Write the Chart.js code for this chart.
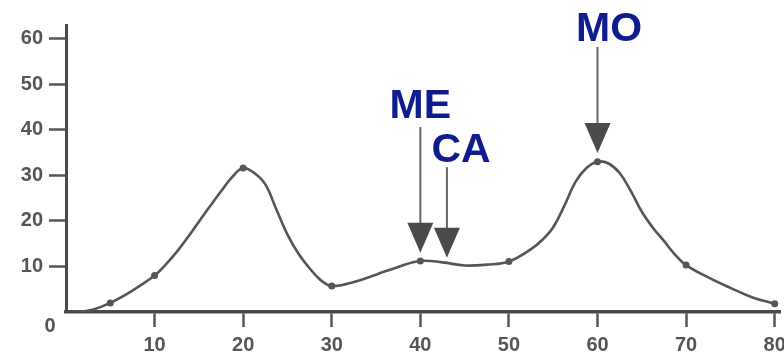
<!DOCTYPE html>
<html>
<head>
<meta charset="utf-8">
<script src="https://cdn.jsdelivr.net/npm/chart.js@4/dist/chart.umd.min.js"></script>
<style>
  html, body { margin: 0; padding: 0; background: #fff; }
  #wrap { width: 784px; height: 357px; position: relative; }
</style>
</head>
<body>
<div id="wrap"><canvas id="chart"></canvas></div>
<script>
// curve (x, y)
const curveX = [1.5, 3, 5, 7.5, 10, 11.25, 12.5, 13.75, 15, 16.25, 17.5, 18.75, 20, 21.25, 22.5, 23.75, 25, 26.25, 27.5, 28.75, 30,
    32.5, 35, 37.5, 40, 42.5, 45, 47.5, 50, 52.5, 53.75, 55, 56.25, 57.5, 58.75, 60, 61.25, 62.5, 63.75, 65, 66.25, 67.5, 68.75, 70,
    72.5, 75, 77.5, 80];
const curveY = [0, 0.5, 2, 4.7, 8, 10.4, 13.2, 16.4, 19.8, 23.2, 26.5, 29.6, 31.6, 30.5, 28, 22.5, 17, 12.8, 9.6, 7.0, 5.7,
    6.6, 8.2, 9.9, 11.2, 10.9, 10.2, 10.4, 11.1, 13.8, 15.8, 18.6, 23.3, 28.5, 31.6, 33, 32.6, 30.5, 26.6, 22, 18.5, 15.6, 12.6, 10.3,
    7.6, 5.3, 3.2, 1.8];

// dots drawn on the curve
const markX = [5, 10, 20, 30, 40, 50, 60, 70, 80];
const markY = [2, 8, 31.6, 5.7, 11.2, 11.1, 33, 10.3, 1.8];

const xTicks = [10, 20, 30, 40, 50, 60, 70, 80];
const yTicks = [10, 20, 30, 40, 50, 60];

// arrow labels
const arrowLabels = ["ME", "CA", "MO"];
const arrowAt = [40, 43, 60];

// annotation placement (data units)
const arrowGeom = [
    { tail: 40.6, tip: 13.0, lx: 40.0, ly: 45.0 },
    { tail: 31.8, tip: 11.9, lx: 44.6, ly: 35.5 },
    { tail: 58.2, tip: 34.9, lx: 61.3, ly: 62.0 },
];

const arrowPlugin = {
    id: "arrows",
    afterDatasetsDraw(chart) {
        const ctx = chart.ctx;
        const xs = chart.scales.x;
        const ys = chart.scales.y;
        ctx.save();
        arrowLabels.forEach((lab, i) => {
            const g = arrowGeom[i];
            const x = xs.getPixelForValue(arrowAt[i]);
            const yTail = ys.getPixelForValue(g.tail);
            const yTip = ys.getPixelForValue(g.tip);
            const headH = 30, headW = 13;
            // shaft
            ctx.strokeStyle = "#666";
            ctx.lineWidth = 2;
            ctx.beginPath();
            ctx.moveTo(x, yTail);
            ctx.lineTo(x, yTip - headH + 2);
            ctx.stroke();
            // head
            ctx.fillStyle = "#4a4a4a";
            ctx.beginPath();
            ctx.moveTo(x - headW, yTip - headH);
            ctx.lineTo(x + headW, yTip - headH);
            ctx.lineTo(x, yTip);
            ctx.closePath();
            ctx.fill();
            // label
            ctx.fillStyle = "#0f1c8e";
            ctx.font = "bold 41px 'Liberation Sans', Arial, sans-serif";
            ctx.textAlign = "center";
            ctx.textBaseline = "middle";
            ctx.fillText(lab, xs.getPixelForValue(g.lx), ys.getPixelForValue(g.ly));
        });
        // single "0" at the origin
        ctx.fillStyle = "#555";
        ctx.font = "bold 20px 'Liberation Sans', Arial, sans-serif";
        ctx.textAlign = "center";
        ctx.textBaseline = "middle";
        ctx.fillText("0", xs.getPixelForValue(0) - 16, ys.getPixelForValue(0) + 14);
        ctx.restore();
    },
};

const tickFont = { family: "'Liberation Sans', Arial, sans-serif", size: 20, weight: "bold" };

new Chart(document.getElementById("chart"), {
    type: "line",
    data: {
        datasets: [
            {
                data: curveX.map((x, i) => ({ x: x, y: curveY[i] })),
                borderColor: "#555",
                borderWidth: 2.6,
                pointRadius: 0,
                tension: 0.4,
                fill: false,
            },
            {
                data: markX.map((x, i) => ({ x: x, y: markY[i] })),
                showLine: false,
                pointRadius: 3.5,
                pointBackgroundColor: "#555",
                pointBorderWidth: 0,
            },
        ],
    },
    options: {
        responsive: true,
        maintainAspectRatio: false,
        animation: false,
        layout: { padding: { top: 25, right: 0, left: 0, bottom: 0 } },
        plugins: {
            legend: { display: false },
            tooltip: { enabled: false },
        },
        scales: {
            x: {
                type: "linear",
                min: 0,
                max: 80.6,
                afterBuildTicks: (axis) => { axis.ticks = xTicks.map(v => ({ value: v })); },
                afterFit: (axis) => { axis.height = 45; axis.paddingLeft = 0; axis.paddingRight = 0; },
                grid: { display: true, drawOnChartArea: false, drawTicks: true, tickLength: 15, tickColor: "#555", tickWidth: 2.5 },
                border: { display: true, color: "#4a4a4a", width: 3.5 },
                ticks: { color: "#555", font: tickFont, padding: 6, maxRotation: 0, autoSkip: false },
            },
            y: {
                type: "linear",
                min: 0,
                max: 63,
                afterBuildTicks: (axis) => { axis.ticks = yTicks.map(v => ({ value: v })); },
                afterFit: (axis) => { axis.width = 66; axis.paddingTop = 0; axis.paddingBottom = 0; },
                grid: { display: true, drawOnChartArea: false, drawTicks: true, tickLength: 17, tickColor: "#555", tickWidth: 2.5 },
                border: { display: true, color: "#4a4a4a", width: 3 },
                ticks: { color: "#555", font: tickFont, padding: 6 },
            },
        },
    },
    plugins: [arrowPlugin],
});
</script>
</body>
</html>
